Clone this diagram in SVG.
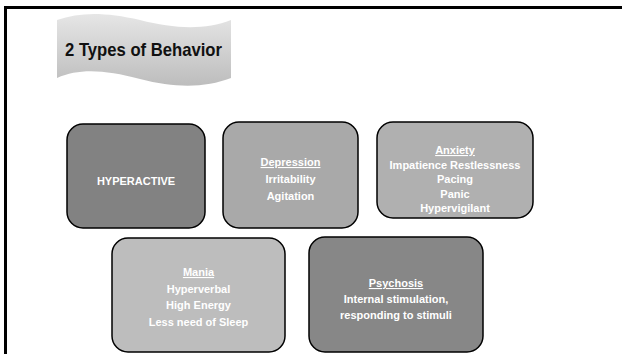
<svg xmlns="http://www.w3.org/2000/svg" width="622" height="354" viewBox="0 0 622 354">
<defs>
<linearGradient id="bannerGrad" x1="0" y1="0" x2="0" y2="1">
<stop offset="0" stop-color="#e6e6e6"/>
<stop offset="1" stop-color="#bdbdbd"/>
</linearGradient>
<style>
.box{stroke:#000;stroke-width:1.5}
.t{font-family:"Liberation Sans",Arial,sans-serif;font-weight:bold;font-size:11px;fill:#fff;text-anchor:middle}
.u{text-decoration:underline}
</style>
</defs>
<rect width="622" height="354" fill="#fff"/>
<path d="M5.5,354 V7.5 H622" fill="none" stroke="#000" stroke-width="3"/>
<g id="title">
<path d="M57,20 C80,12 105,12 140,20 C175,29 205,30 231,20 L231,78 C205,88 175,88 140,79 C105,70 80,68 57,78 Z" fill="url(#bannerGrad)"/>
<text x="65" y="56" font-family="'Liberation Sans',Arial,sans-serif" font-weight="bold" font-size="18.5" fill="#111" textLength="157" lengthAdjust="spacingAndGlyphs">2 Types of Behavior</text>
</g>
<g id="hyperactive">
<rect class="box" x="67" y="124" width="138" height="104" rx="16" fill="#828282"/>
<text class="t" x="136" y="185">HYPERACTIVE</text>
</g>
<g id="depression">
<rect class="box" x="223" y="122" width="135" height="106" rx="16" fill="#a9a9a9"/>
<text class="t" x="290.5" y="166"><tspan class="u">Depression </tspan></text>
<text class="t" x="290.5" y="183">Irritability</text>
<text class="t" x="290.5" y="200">Agitation</text>
</g>
<g id="anxiety">
<rect class="box" x="377" y="122" width="156" height="96" rx="16" fill="#b0b0b0"/>
<text class="t" x="455" y="154"><tspan class="u">Anxiety </tspan></text>
<text class="t" x="455" y="168.5">Impatience Restlessness</text>
<text class="t" x="455" y="183">Pacing</text>
<text class="t" x="455" y="197.5">Panic</text>
<text class="t" x="455" y="212">Hypervigilant</text>
</g>
<g id="mania">
<rect class="box" x="112" y="238" width="173" height="114" rx="16" fill="#bdbdbd"/>
<text class="t" x="198.5" y="276"><tspan class="u">Mania </tspan></text>
<text class="t" x="198.5" y="293">Hyperverbal</text>
<text class="t" x="198.5" y="309">High Energy</text>
<text class="t" x="198.5" y="326">Less need of Sleep</text>
</g>
<g id="psychosis">
<rect class="box" x="309" y="237" width="174" height="115" rx="16" fill="#878787"/>
<text class="t" x="396" y="287"><tspan class="u">Psychosis </tspan></text>
<text class="t" x="396" y="303">Internal stimulation,</text>
<text class="t" x="396" y="319">responding to stimuli</text>
</g>
<g id="connectors"></g>
</svg>
